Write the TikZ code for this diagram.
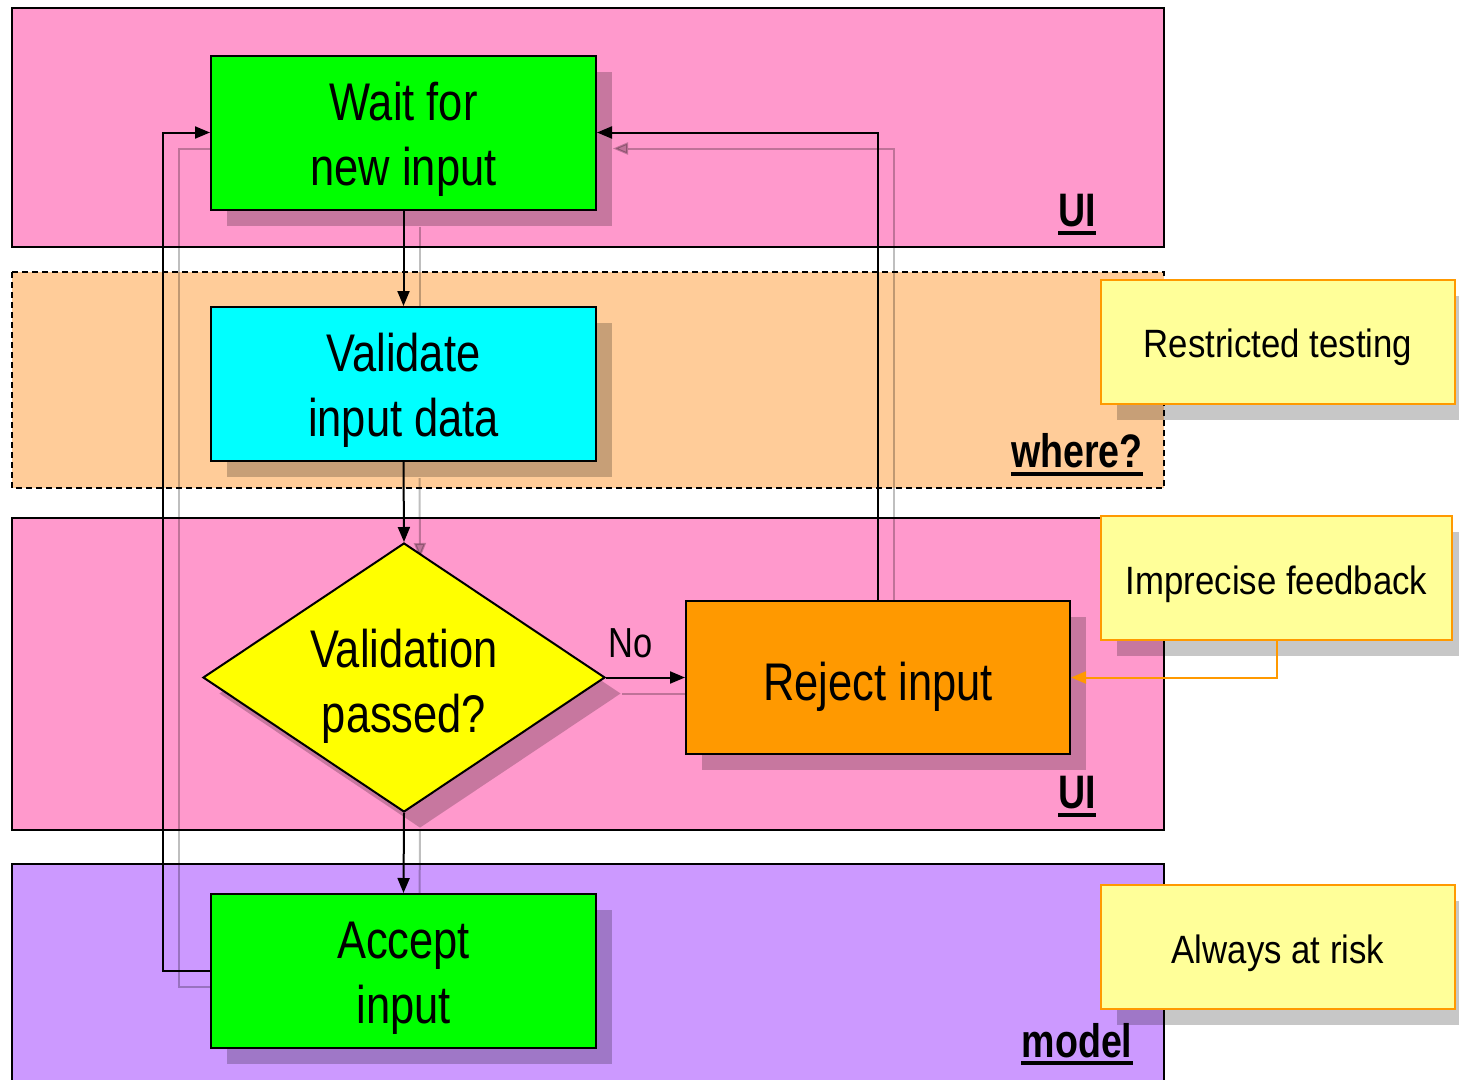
\documentclass[tikz,border=0pt]{standalone}
\usepackage{fontspec}
\setmainfont{Liberation Sans}
\newfontfamily\boxfont{Liberation Sans}[FakeStretch=0.82]
\newfontfamily\notefont{Liberation Sans}[FakeStretch=0.88]
\newfontfamily\lanefont{Liberation Sans}[FakeStretch=0.8]
\usetikzlibrary{shapes.geometric,shadows,arrows.meta}
\definecolor{lanepink}{HTML}{FF99CC}
\definecolor{lanetan}{HTML}{FFCC99}
\definecolor{lanelilac}{HTML}{CC99FF}
\definecolor{boxgreen}{HTML}{00FF00}
\definecolor{boxcyan}{HTML}{00FFFF}
\definecolor{boxyellow}{HTML}{FFFF00}
\definecolor{boxorange}{HTML}{FF9900}
\definecolor{notefill}{HTML}{FFFF99}
% invisible struts that set the height of a node's first text line
\newcommand\boxstrut{\rule{0pt}{51pt}}
\newcommand\diastrut{\rule{0pt}{55pt}}
\newcommand\onestrut{\rule{0pt}{57pt}}
\pgfdeclarelayer{bg}
\pgfsetlayers{bg,main}
\begin{document}
\begin{tikzpicture}[x=1pt,y=-1pt,
  lane/.style={draw=black, line width=1.6pt},
  boxshadow/.style={drop shadow={shadow xshift=16pt,shadow yshift=-16pt,fill=black,opacity=0.22}},
  procbox/.style={draw=black, line width=2pt, inner sep=0pt,
    minimum width=385pt, minimum height=154pt, align=center,
    font=\boxfont\fontsize{53}{65}\selectfont, boxshadow},
  decision/.style={diamond, aspect=1.5, draw=black, line width=2pt, fill=boxyellow,
    inner sep=0pt, minimum width=402pt, minimum height=269pt, align=center,
    font=\boxfont\fontsize{53}{65}\selectfont, boxshadow},
  note/.style={draw=boxorange, line width=2pt, fill=notefill, inner sep=0pt,
    minimum width=354pt, minimum height=124pt,
    font=\notefont\fontsize{39.5}{47}\selectfont,
    text height=32pt, text depth=0pt, boxshadow},
  lanelabel/.style={inner sep=0pt, font=\lanefont\bfseries\fontsize{47}{56}\selectfont},
  ul/.style={line width=4pt},
  tip/.style={-{Triangle[length=15pt,width=12pt]}},
  flow/.style={draw=black, line width=2pt, tip},
  flowshadow/.style={draw=black, opacity=0.25, line width=2pt, tip},
  feedback/.style={draw=boxorange, line width=2pt, tip},
  edgelabel/.style={inner sep=0pt, font=\boxfont\fontsize{42}{50}\selectfont}
]
\useasboundingbox (0,0) rectangle (1459,1079);

% swim lanes
\begin{pgfonlayer}{bg}
  \fill[white] (0,0) rectangle (1459,1079);
  \draw[lane, fill=lanepink] (12,8) rectangle (1164,247);
  \draw[lane, fill=lanetan, dash pattern=on 6pt off 4pt] (12,272) rectangle (1164,488);
  \draw[lane, fill=lanepink] (12,518) rectangle (1164,830);
  \draw[lane, fill=lanelilac] (12,864) rectangle (1164,1100);
\end{pgfonlayer}

% lane labels
\node[lanelabel, anchor=base] (ui1) at (1077,226) {UI};
\draw[ul] ([yshift=-7pt]ui1.base west) -- ([yshift=-7pt]ui1.base east);
\node[lanelabel, anchor=base] (where) at (1077,467) {where?};
\draw[ul] ([yshift=-7pt]where.base west) -- ([yshift=-7pt]where.base east);
\node[lanelabel, anchor=base] (ui2) at (1077,808) {UI};
\draw[ul] ([yshift=-7pt]ui2.base west) -- ([yshift=-7pt]ui2.base east);
\node[lanelabel, anchor=base] (model) at (1077,1057) {model};
\draw[ul] ([yshift=-6pt]model.base west) -- ([yshift=-6pt]model.base east);

% process steps
\node[procbox, fill=boxgreen] (wait) at (403.5,132.5) {\boxstrut Wait for\\new input};
\node[procbox, fill=boxcyan] (val) at (403.5,384) {\boxstrut Validate\\input data};
\node[decision] (dec) at (404,677.5) {\diastrut Validation\\passed?};
\node[procbox, fill=boxorange, minimum width=384pt, minimum height=153pt] (rej) at (878,677.5) {\onestrut Reject input};
\node[procbox, fill=boxgreen] (acc) at (403.5,971) {\boxstrut Accept\\input};

% remarks
\node[note] (rest) at (1278,341.5) {Restricted testing};
\node[note, minimum width=351pt] (imp) at (1276.5,578) {Imprecise feedback};
\node[note] (risk) at (1278,947) {Always at risk};

% connectors
\draw[flow] (wait.south) -- (val.north);
\draw[flow] (val.south) -- (dec.north);
\draw[flow] (dec.south) -- (acc.north);
\draw[flow] (dec.east) -- node[edgelabel, pos=0.31, anchor=base, yshift=20pt] {No} (rej.west);
\draw[flow] (rej.north) |- (wait.east);
\draw[flow] (acc.west) -- ++(-47,0) |- (wait.west);
\draw[feedback] (imp.south) |- (rej.east);

% connector shadows
\begin{pgfonlayer}{bg}
  \draw[flowshadow] ([shift={(16,16)}]wait.south) -- ([shift={(16,16)}]val.north);
  \draw[flowshadow] ([shift={(16,16)}]val.south) -- ([shift={(16,16)}]dec.north);
  \draw[flowshadow] ([shift={(16,16)}]dec.south) -- ([shift={(16,16)}]acc.north);
  \draw[flowshadow] ([shift={(16,16)}]dec.east) -- ([shift={(16,16)}]rej.west);
  \draw[flowshadow] ([shift={(16,16)}]rej.north) |- ([shift={(16,16)}]wait.east);
  \draw[flowshadow] ([shift={(16,16)}]acc.west) -- ++(-47,0) |- ([shift={(16,16)}]wait.west);
\end{pgfonlayer}
\end{tikzpicture}
\end{document}
